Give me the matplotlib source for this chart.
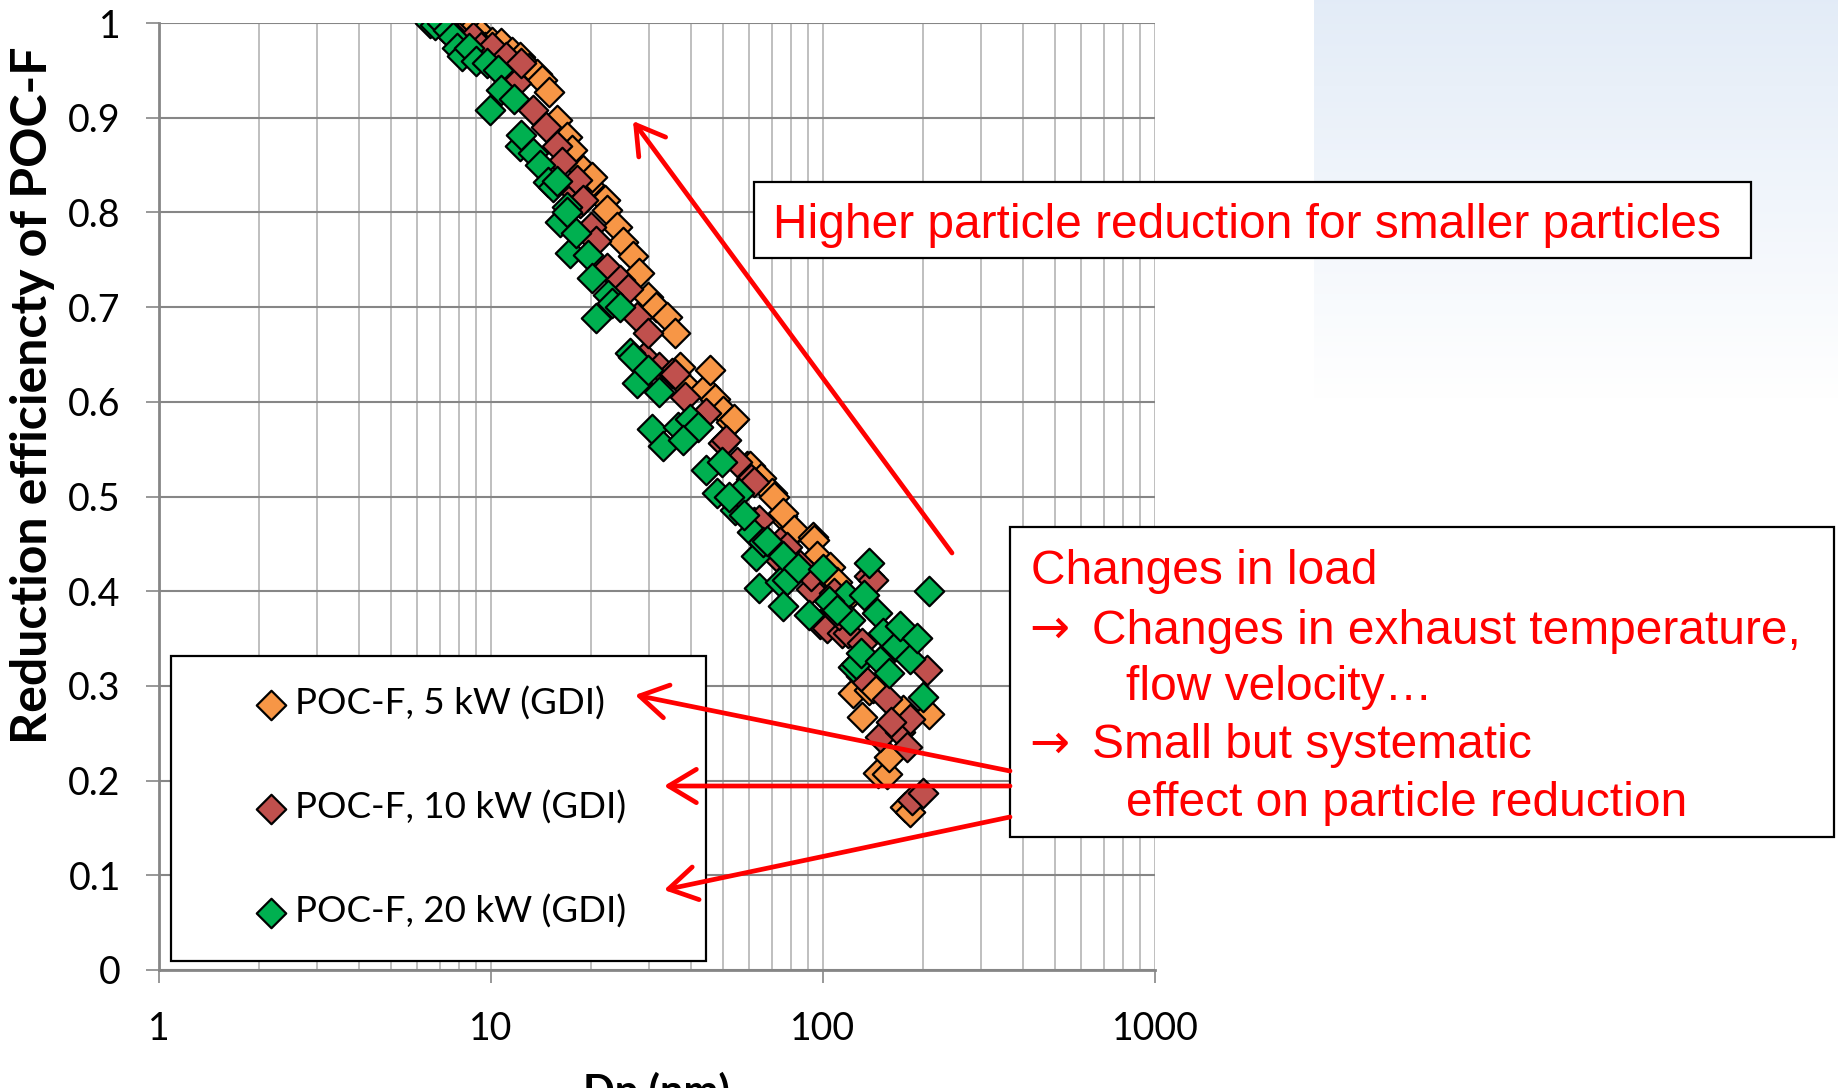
import numpy as np
import matplotlib
matplotlib.use("Agg")
import matplotlib.pyplot as plt
from matplotlib.patches import Rectangle, FancyArrowPatch
from matplotlib.ticker import FixedLocator, LogLocator, NullFormatter

################### donnees ####################################################

dp_5kw = [7.0, 7.3, 7.7, 8.0, 8.4, 8.8, 9.3, 9.6, 10.1, 10.7,
          11.6, 12.2, 13.0, 13.8, 14.2, 15.0, 15.8, 16.9, 17.5, 18.9,
          19.8, 20.1, 22.0, 22.4, 24.0, 24.9, 26.8, 27.9, 29.7, 31.5,
          33.8, 35.8, 37.0, 39.0, 44.0, 45.7, 47.3, 50.0, 53.0, 54.0,
          59.0, 60.4, 65.0, 70.0, 71.0, 75.0, 76.0, 81.0, 82.0, 93.0,
          94.0, 96.0, 100.0, 105.0, 110.0, 116.0, 123.0, 131.0, 138.0, 141.0,
          146.0, 156.0, 158.0, 174.0, 176.0, 183.0, 208.0]
eff_5kw = [1.0, 0.998, 1.0, 0.99, 0.985, 0.995, 0.988, 0.975, 0.98, 0.979,
           0.969, 0.964, 0.953, 0.946, 0.94, 0.927, 0.898, 0.88, 0.866, 0.845,
           0.829, 0.837, 0.813, 0.803, 0.785, 0.769, 0.754, 0.736, 0.711, 0.70,
           0.69, 0.673, 0.637, 0.616, 0.613, 0.634, 0.603, 0.59, 0.579, 0.582,
           0.532, 0.532, 0.52, 0.504, 0.499, 0.479, 0.483, 0.462, 0.465, 0.457,
           0.454, 0.437, 0.42, 0.426, 0.41, 0.39, 0.293, 0.267, 0.296, 0.298,
           0.208, 0.207, 0.225, 0.275, 0.172, 0.167, 0.27]

dp_10kw = [7.2, 7.6, 8.0, 8.8, 9.3, 10.1, 11.1, 11.9, 12.3, 13.4,
           14.6, 15.8, 16.4, 17.7, 18.1, 18.6, 18.9, 20.0, 20.7, 22.4,
           24.4, 25.9, 27.5, 28.8, 29.7, 32.0, 35.0, 35.8, 38.4, 44.5,
           50.0, 51.0, 55.0, 60.5, 62.0, 62.0, 64.0, 72.0, 74.0, 78.0,
           92.0, 92.0, 98.0, 103.0, 108.0, 114.0, 119.0, 130.0, 131.0, 138.0,
           141.0, 149.0, 156.0, 170.0, 179.0, 183.0, 186.0, 200.0, 206.0,
           85.0, 112.0, 160.0]
eff_10kw = [0.995, 0.99, 0.985, 0.985, 0.975, 0.975, 0.964, 0.937, 0.958, 0.908,
            0.89, 0.87, 0.853, 0.824, 0.834, 0.81, 0.813, 0.785, 0.77, 0.741,
            0.729, 0.719, 0.69, 0.647, 0.673, 0.637, 0.63, 0.629, 0.605, 0.588,
            0.557, 0.56, 0.536, 0.518, 0.515, 0.473, 0.475, 0.437, 0.452, 0.447,
            0.402, 0.416, 0.365, 0.361, 0.398, 0.356, 0.356, 0.31, 0.345, 0.416,
            0.412, 0.246, 0.286, 0.251, 0.235, 0.265, 0.18, 0.187, 0.317,
            0.428, 0.375, 0.262]

dp_20kw = [6.55, 6.8, 7.1, 7.4, 7.7, 7.9, 8.2, 8.6, 9.0, 9.7,
           9.9, 10.5, 10.7, 11.7, 12.2, 12.3, 13.4, 14.0, 14.8, 15.4,
           15.8, 16.1, 16.9, 16.9, 17.3, 18.0, 19.6, 20.1, 20.7, 22.5,
           23.2, 24.4, 26.3, 26.8, 27.5, 29.7, 30.6, 32.0, 33.0, 36.6,
           39.7, 42.0, 44.5, 48.0, 49.6, 54.4, 56.0, 61.0, 63.0, 64.0,
           66.0, 68.0, 74.0, 76.0, 76.0, 78.0, 84.0, 91.0, 100.0, 117.0,
           121.0, 123.0, 126.0, 130.0, 133.0, 138.0, 145.0, 149.0, 152.0, 158.0,
           166.0, 170.0, 183.0, 192.0, 200.0, 208.0,
           52.0, 58.0, 104.0, 110.0, 38.0]
eff_20kw = [1.0, 0.998, 1.0, 0.993, 0.985, 0.974, 0.965, 0.974, 0.96, 0.958,
            0.908, 0.95, 0.929, 0.92, 0.87, 0.882, 0.863, 0.85, 0.832, 0.827,
            0.833, 0.79, 0.806, 0.80, 0.757, 0.778, 0.755, 0.731, 0.689, 0.713,
            0.704, 0.70, 0.652, 0.647, 0.62, 0.634, 0.571, 0.61, 0.553, 0.573,
            0.582, 0.573, 0.528, 0.504, 0.536, 0.486, 0.504, 0.462, 0.437, 0.403,
            0.452, 0.453, 0.41, 0.384, 0.437, 0.412, 0.425, 0.375, 0.423, 0.396,
            0.37, 0.32, 0.323, 0.335, 0.396, 0.43, 0.377, 0.326, 0.356, 0.314,
            0.342, 0.363, 0.328, 0.351, 0.288, 0.40,
            0.50, 0.48, 0.39, 0.38, 0.56]

labels = ["POC-F, 5 kW (GDI)", "POC-F, 10 kW (GDI)", "POC-F, 20 kW (GDI)"]
colors = ["#F79646", "#C0504D", "#00B050"]

yticks = [0, 0.1, 0.2, 0.3, 0.4, 0.5, 0.6, 0.7, 0.8, 0.9, 1.0]
ytick_labels = ["0", "0.1", "0.2", "0.3", "0.4", "0.5", "0.6", "0.7", "0.8", "0.9", "1"]
xticks = [1, 10, 100, 1000]
xtick_labels = ["1", "10", "100", "1000"]

note_top = "Higher particle reduction for smaller particles"
note_lines = ["Changes in load",
              "Changes in exhaust temperature,",
              "flow velocity\u2026",
              "Small but systematic",
              "effect on particle reduction"]
note_arrow = [False, True, False, True, False]

################### mise en page (pixels de l'image) ##############################

W, H = 1838, 1088

def fx(x):
    return x / W

def fy(y):
    return 1 - y / H

plt.rcParams['font.family'] = ['Lato', 'DejaVu Sans']
red_font = ['Liberation Sans', 'DejaVu Sans']

fig = plt.figure(figsize=(W / 100, H / 100), dpi=100)

# fond bleu clair en haut a droite
grad = np.linspace(0, 1, 200)[:, None]
top = np.array([0.890, 0.925, 0.970])
img = top[None, None, :] * (1 - grad[:, :, None]) + np.ones(3)[None, None, :] * grad[:, :, None]
gax = fig.add_axes([fx(1314), fy(400), (W - 1314) / W, 400 / H], zorder=-1)
gax.imshow(img, aspect='auto')
gax.axis('off')

ax = fig.add_axes([fx(159), fy(970), (1155 - 159) / W, (970 - 23) / H])

series = [(dp_5kw, eff_5kw), (dp_10kw, eff_10kw), (dp_20kw, eff_20kw)]
handles = []
for (xs, ys), c, lab in zip(series, colors, labels):
    h = ax.scatter(xs, ys, marker='D', s=225, facecolor=c, edgecolor='black',
                   linewidths=1.6, zorder=3, label=lab)
    handles.append(h)

ax.set_xscale('log')
ax.set_xlim(1, 1000)
ax.set_ylim(0, 1)
ax.xaxis.set_major_locator(FixedLocator(xticks))
ax.set_xticklabels(xtick_labels)
ax.xaxis.set_minor_locator(LogLocator(base=10, subs=range(2, 10)))
ax.xaxis.set_minor_formatter(NullFormatter())
ax.set_yticks(yticks)
ax.set_yticklabels(ytick_labels)
ax.tick_params(axis='x', which='minor', length=0)
ax.tick_params(axis='x', which='major', length=9.5, width=1.2, color='#868686', pad=20, labelsize=27)
ax.tick_params(axis='y', length=9.5, width=1.2, color='#868686', pad=18, labelsize=27)
ax.set_axisbelow(True)
ax.grid(axis='x', which='both', color='#BFBFBF', lw=1.4)
ax.grid(axis='y', which='major', color='#868686', lw=1.5)
for s in ['top', 'right']:
    ax.spines[s].set_visible(False)
for s in ['left', 'bottom']:
    ax.spines[s].set_color('#868686')
    ax.spines[s].set_linewidth(2)

fig.text(fx(33), fy(395), "Reduction efficiencty of POC-F", rotation=90,
         ha='center', va='center', fontsize=36, fontweight='bold')
fig.text(fx(656), fy(1072), "Dp (nm)", ha='center', va='top', fontsize=30, fontweight='bold')

# legende
frame = Rectangle((fx(171), fy(961)), (706 - 171) / W, (961 - 656) / H,
                  transform=fig.transFigure, facecolor='white', edgecolor='black',
                  lw=1.6, zorder=4, clip_on=False)
ax.add_artist(frame)
ax.legend(handles=handles, labels=labels, loc='center left',
          bbox_to_anchor=(fx(253), fy(808)), bbox_transform=fig.transFigure,
          frameon=False, borderpad=0, borderaxespad=0, handlelength=1.0,
          handletextpad=0.15, labelspacing=1.9, fontsize=26.5, scatterpoints=1)

# encadres rouges
fig.add_artist(Rectangle((fx(754), fy(258)), (1751 - 754) / W, (258 - 182) / H,
                         transform=fig.transFigure, facecolor='white',
                         edgecolor='black', lw=1.6, zorder=5))
fig.text(fx(773), fy(226), note_top, color='red', fontsize=34.5, family=red_font,
         ha='left', va='center', zorder=6)

fig.add_artist(Rectangle((fx(1010), fy(837)), (1834 - 1010) / W, (837 - 527) / H,
                         transform=fig.transFigure, facecolor='white',
                         edgecolor='black', lw=1.6, zorder=5))
line_x = [1031, 1092, 1126, 1092, 1126]
line_y = [571, 631, 688, 746, 804]
for t, lx, ly, arr in zip(note_lines, line_x, line_y, note_arrow):
    fig.text(fx(lx), fy(ly), t, color='red', fontsize=34.5, family=red_font,
             ha='left', va='center', zorder=6)
    if arr:
        fig.text(fx(1029), fy(ly - 2), "\u2192", color='red', fontsize=34.5,
                 family=['DejaVu Sans'], ha='left', va='center', zorder=6)

# fleches
arrows = [((952, 553), (633, 121)),
          ((1010, 771), (635, 695)),
          ((1010, 786), (664, 786)),
          ((1010, 817), (664, 890))]
for (x0, y0), (x1, y1) in arrows:
    fig.add_artist(FancyArrowPatch((fx(x0), fy(y0)), (fx(x1), fy(y1)),
                                   transform=fig.transFigure,
                                   arrowstyle='->,head_length=1.0,head_width=0.6',
                                   mutation_scale=20, color='red', lw=3.4,
                                   shrinkA=0, shrinkB=0, zorder=7))

fig.savefig('out.png', dpi=100)
